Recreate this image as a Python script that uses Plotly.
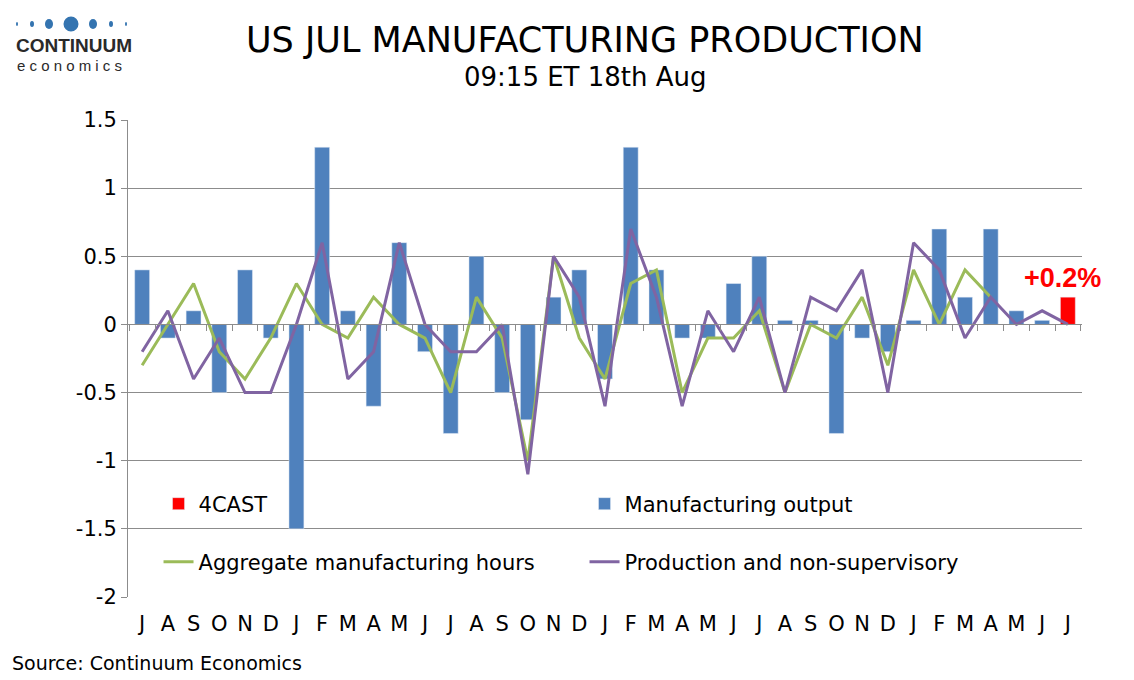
import plotly.graph_objects as go

months = ["J", "A", "S", "O", "N", "D", "J", "F", "M", "A", "M", "J",
          "J", "A", "S", "O", "N", "D", "J", "F", "M", "A", "M", "J",
          "J", "A", "S", "O", "N", "D", "J", "F", "M", "A", "M", "J", "J"]
x = list(range(len(months)))

# manufacturing output m/m %, last month is the forecast
output = [0.4, -0.1, 0.1, -0.5, 0.4, -0.1, -1.5, 1.3, 0.1, -0.6, 0.6, -0.2,
          -0.8, 0.5, -0.5, -0.7, 0.2, 0.4, -0.4, 1.3, 0.4, -0.1, -0.1, 0.3,
          0.5, 0.03, 0.03, -0.8, -0.1, -0.2, 0.03, 0.7, 0.2, 0.7, 0.1, 0.03, None]
forecast = [None] * 36 + [0.2]
agg_hours = [-0.3, 0.0, 0.3, -0.2, -0.4, -0.1, 0.3, 0.0, -0.1, 0.2, 0.0, -0.1,
             -0.5, 0.2, -0.1, -1.0, 0.5, -0.1, -0.4, 0.3, 0.4, -0.5, -0.1, -0.1,
             0.1, -0.5, 0.0, -0.1, 0.2, -0.3, 0.4, 0.0, 0.4, 0.2, None, None, None]
prod_nonsup = [-0.2, 0.1, -0.4, -0.1, -0.5, -0.5, 0.0, 0.6, -0.4, -0.2, 0.6, 0.0,
               -0.2, -0.2, 0.0, -1.1, 0.5, 0.2, -0.6, 0.7, 0.2, -0.6, 0.1, -0.2,
               0.2, -0.5, 0.2, 0.1, 0.4, -0.5, 0.6, 0.4, -0.1, 0.2, 0.0, 0.1, 0.0]

font = "DejaVu Sans, Verdana, sans-serif"
grid = "#8c8c8c"

# plot area in page pixels, used to place the header/footer texts
PL, PR, PT, PB = 128, 1082, 120, 597


def px(xp):
    return (xp - PL) / (PR - PL)


def py(yp):
    return (PB - yp) / (PB - PT)


fig = go.Figure()
fig.add_trace(go.Bar(x=x, y=forecast, name="4CAST", marker_color="#ff0000",
                     legend="legend"))
fig.add_trace(go.Bar(x=x, y=output, name="Manufacturing output",
                     marker_color="#4f81bd", legend="legend"))
fig.add_trace(go.Scatter(x=x, y=agg_hours, name="Aggregate manufacturing hours",
                         mode="lines", line=dict(color="#9bbb59", width=3),
                         legend="legend2"))
fig.add_trace(go.Scatter(x=x, y=prod_nonsup, name="Production and non-supervisory",
                         mode="lines", line=dict(color="#8064a2", width=3),
                         legend="legend2"))

# zero line axis with tick marks between months
fig.add_trace(go.Scatter(x=[x[0]], y=[None], xaxis="x2", showlegend=False,
                         hoverinfo="skip"))

fig.add_annotation(x=x[-1], y=forecast[-1], text="<b>+0.2%</b>", showarrow=False,
                   yanchor="bottom", yshift=2, xshift=-5,
                   font=dict(family="Arial, Liberation Sans", size=27, color="#ff0000"))

# logo
dots = [(17, 1, 2), (32, 2, 3), (49, 4, 5), (71, 7.5, 7.5), (93, 4, 5), (111, 2, 3), (126, 1, 2)]
for cx, rx, ry in dots:
    fig.add_shape(type="circle", xref="paper", yref="paper",
                  x0=px(cx - rx), x1=px(cx + rx), y0=py(24 + ry), y1=py(24 - ry),
                  fillcolor="#3474b0", line_width=0, layer="above")
fig.add_annotation(xref="paper", yref="paper", x=px(14), y=py(46), text="<b>CONTINUUM</b>",
                   showarrow=False, xanchor="left", yanchor="middle",
                   font=dict(family="Liberation Sans, Arial", size=19, color="#2a2a2a"))
fig.add_annotation(xref="paper", yref="paper", x=px(15), y=py(65), text="e c o n o m i c s",
                   showarrow=False, xanchor="left", yanchor="middle",
                   font=dict(family="Liberation Sans, Arial", size=15, color="#2a2a2a"))

fig.add_annotation(xref="paper", yref="paper", x=px(585), y=py(40), yanchor="middle",
                   text="US JUL MANUFACTURING PRODUCTION", showarrow=False,
                   font=dict(family=font, size=35, color="#000000"))
fig.add_annotation(xref="paper", yref="paper", x=px(585), y=py(77), yanchor="middle",
                   text="09:15 ET 18th Aug", showarrow=False,
                   font=dict(family=font, size=26, color="#000000"))
fig.add_annotation(xref="paper", yref="paper", x=px(10), y=py(663), yanchor="middle",
                   text="Source: Continuum Economics", showarrow=False, xanchor="left",
                   font=dict(family=font, size=19, color="#000000"))

fig.update_layout(
    width=1134, height=680,
    margin=dict(l=PL - 8, r=1134 - PR + 8, t=PT - 8, b=680 - PB + 8),
    paper_bgcolor="white", plot_bgcolor="white",
    font=dict(family=font, size=21, color="#000000"),
    barmode="overlay", bargap=0.42,
    xaxis=dict(range=[-0.55, 36.55], tickvals=x, ticktext=months, showgrid=False,
               showline=False, ticks="", tickfont=dict(size=21), zeroline=False,
               ticklabelstandoff=12),
    xaxis2=dict(range=[-0.55, 36.55], overlaying="x", anchor="free",
                position=2 / 3.5, side="bottom", showline=True, linecolor=grid,
                linewidth=1, ticks="outside", ticklen=6, tickcolor=grid,
                tickvals=[i + 0.5 for i in x[:-1]] + [-0.5, 36.5], showticklabels=False,
                showgrid=False, zeroline=False),
    yaxis=dict(range=[-2, 1.5], tickvals=[-2, -1.5, -1, -0.5, 0, 0.5, 1, 1.5],
               ticktext=["-2", "-1.5", "-1", "-0.5", "0", "0.5", "1", "1.5"],
               showgrid=True, gridcolor=grid, gridwidth=1, zeroline=False,
               showline=True, linecolor=grid, ticks="outside", ticklen=6, tickcolor=grid,
               tickfont=dict(size=21)),
    legend=dict(orientation="h", x=0.032, y=py(504), yanchor="middle",
                xanchor="left", bgcolor="rgba(0,0,0,0)", entrywidth=381,
                entrywidthmode="pixels", font=dict(size=21), traceorder="normal"),
    legend2=dict(orientation="h", x=0.032, y=py(562), yanchor="middle",
                 xanchor="left", bgcolor="rgba(0,0,0,0)", entrywidth=381,
                 entrywidthmode="pixels", font=dict(size=21), traceorder="normal"),
    showlegend=True,
)

fig.write_html("out.html")
